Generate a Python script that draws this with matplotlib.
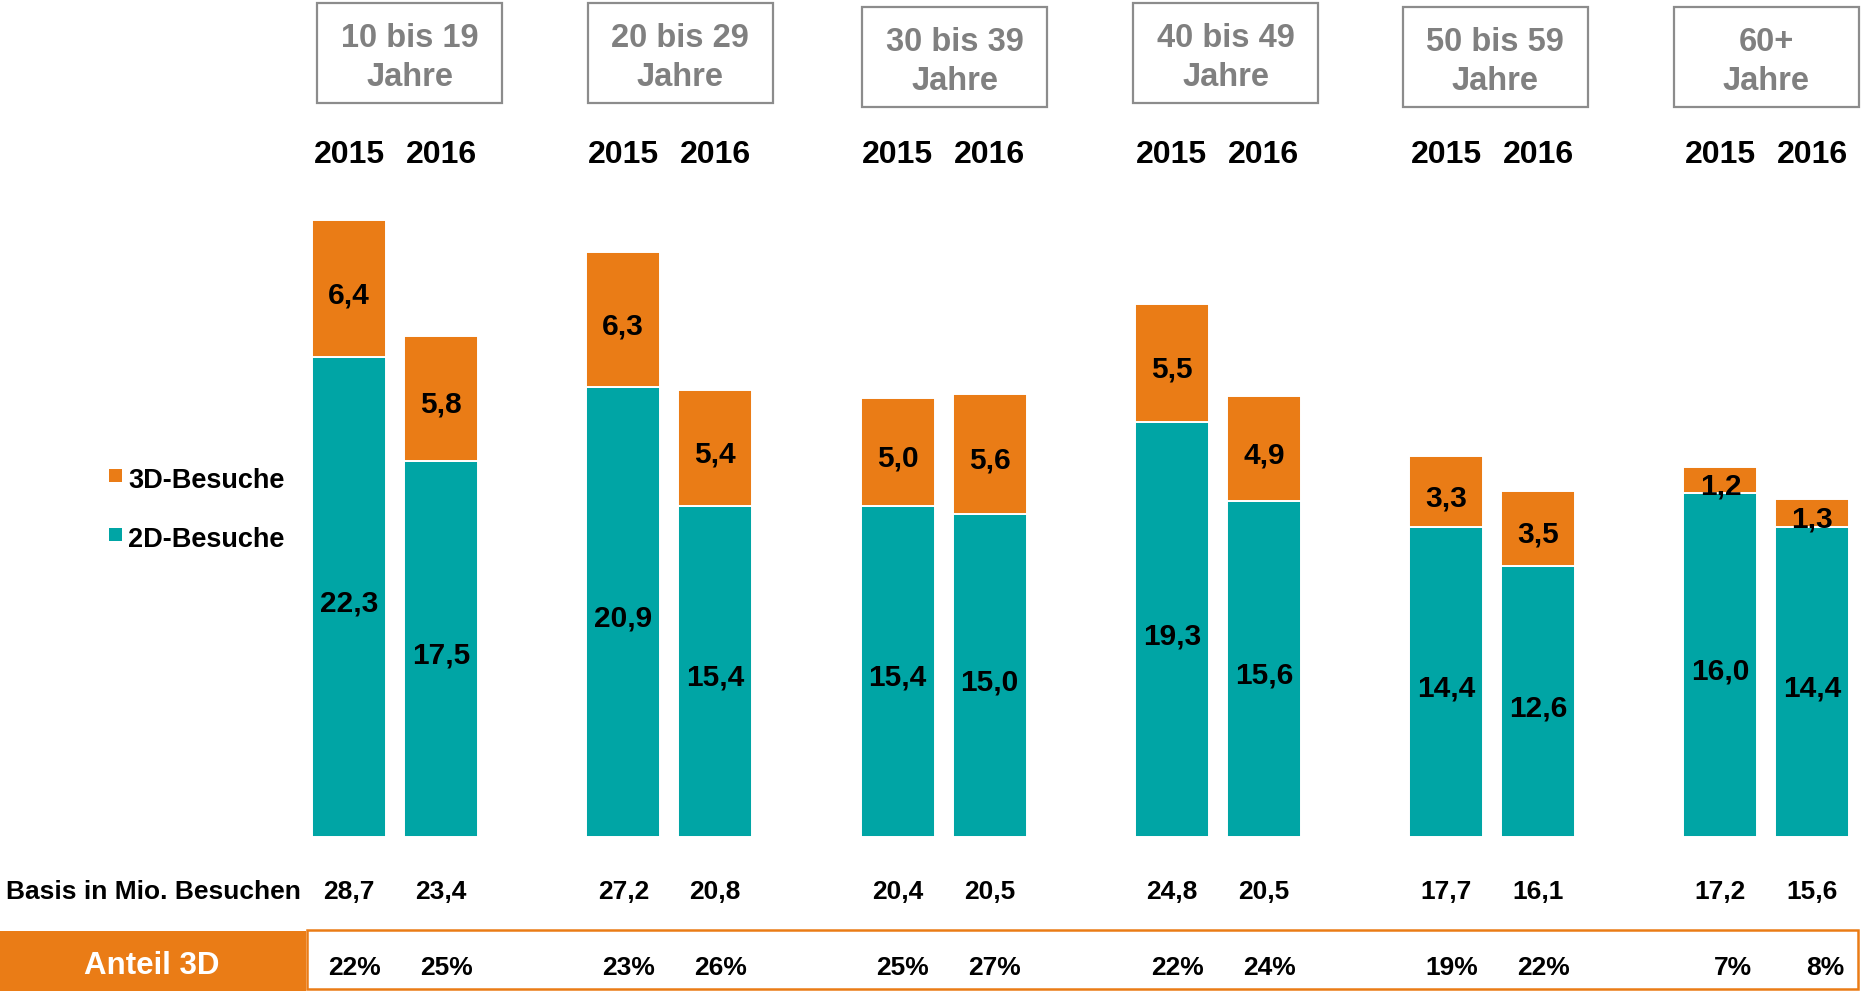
import matplotlib
matplotlib.use("Agg")
import matplotlib.pyplot as plt
import matplotlib.transforms as mtransforms
from matplotlib.patches import Rectangle

# ---------------- data ----------------
groups = ["10 bis 19\nJahre", "20 bis 29\nJahre", "30 bis 39\nJahre",
          "40 bis 49\nJahre", "50 bis 59\nJahre", "60+\nJahre"]
years = ["2015", "2016"]
besuche_2d_2015 = [22.3, 20.9, 15.4, 19.3, 14.4, 16.0]
besuche_2d_2016 = [17.5, 15.4, 15.0, 15.6, 12.6, 14.4]
besuche_3d_2015 = [6.4, 6.3, 5.0, 5.5, 3.3, 1.2]
besuche_3d_2016 = [5.8, 5.4, 5.6, 4.9, 3.5, 1.3]
basis_2015 = [28.7, 27.2, 20.4, 24.8, 17.7, 17.2]
basis_2016 = [23.4, 20.8, 20.5, 20.5, 16.1, 15.6]
anteil_2015 = [22, 23, 25, 22, 19, 7]
anteil_2016 = [25, 26, 27, 24, 22, 8]
legend_labels = ["3D-Besuche", "2D-Besuche"]
basis_label = "Basis in Mio. Besuchen"
anteil_label = "Anteil 3D"

# ---------------- style ----------------
TEAL = "#00A5A5"
ORANGE = "#EA7C16"
GREY_TXT = "#808080"
GREY_BOX = "#8C8C8C"
FONT = "Liberation Sans"
plt.rcParams["font.family"] = [FONT, "DejaVu Sans"]

W, H = 1874, 995
fig = plt.figure(figsize=(W / 100, H / 100), dpi=100)

# overlay axes in pixel coordinates (for decorations)
ov = fig.add_axes([0, 0, 1, 1])
ov.set_xlim(0, W)
ov.set_ylim(H, 0)
ov.axis("off")

# main data axes
y0_px = 838.0
px_per_unit = 21.51
ymax = 38
ax = fig.add_axes([0, (H - y0_px) / H, 1, ymax * px_per_unit / H])
gc0_px, gstep_px = 395.0, 274.3
ax.set_xlim(-gc0_px / gstep_px, (W - gc0_px) / gstep_px)
ax.set_ylim(0, ymax)
ax.axis("off")

trans = mtransforms.blended_transform_factory(ax.transData, ov.transData)

def fmt(v):
    return f"{v:.1f}".replace(".", ",")

def base(center_px, size_pt):
    # baseline pixel so that cap height is centered on center_px
    return center_px + 0.358 * size_pt * 100 / 72

off = 46 / gstep_px
bw = 74 / gstep_px
n = len(groups)
xs = list(range(n))

series = [
    (besuche_2d_2015, besuche_3d_2015, basis_2015, anteil_2015, -off),
    (besuche_2d_2016, besuche_3d_2016, basis_2016, anteil_2016, +off),
]

lab_shift = -0.12  # small downward nudge of in-bar labels (data units)
for yi, (d2, d3, bas, ant, dx) in enumerate(series):
    pos = [x + dx for x in xs]
    ax.bar(pos, d2, width=bw, color=TEAL, edgecolor="white", linewidth=1.4, zorder=2)
    ax.bar(pos, d3, width=bw, bottom=d2, color=ORANGE, edgecolor="white",
           linewidth=1.4, zorder=2)
    for p, a, b in zip(pos, d2, d3):
        ax.text(p, a / 2 + lab_shift, fmt(a), ha="center", va="center_baseline",
                fontsize=21.5, fontweight="bold", color="black", zorder=3)
        ax.text(p, a + b / 2 + lab_shift, fmt(b), ha="center", va="center_baseline",
                fontsize=21.5, fontweight="bold", color="black", zorder=3)
    for p in pos:
        ax.text(p, base(152, 23), years[yi], transform=trans, ha="center",
                va="baseline", fontsize=23, fontweight="bold", color="black",
                clip_on=False)
    for p, v in zip(pos, bas):
        ax.text(p, base(890, 19), fmt(v), transform=trans, ha="center",
                va="baseline", fontsize=19, fontweight="bold", color="black",
                clip_on=False)
    for p, v in zip(pos, ant):
        ax.text(p + 0.115, base(966, 19), f"{v}%", transform=trans, ha="right",
                va="baseline", fontsize=19, fontweight="bold", color="black",
                clip_on=False)

# header boxes
box_shift_px = [15, 11, 11, 8, 3, 0]
box_top_px = [4, 4, 8, 4, 8, 8]
box_w = 185 / gstep_px
for x, g, sh, top in zip(xs, groups, box_shift_px, box_top_px):
    cx = x + sh / gstep_px
    ax.add_patch(Rectangle((cx - box_w / 2, top), box_w, 100, transform=trans,
                           fill=False, edgecolor=GREY_BOX, linewidth=1.6,
                           clip_on=False))
    lines = g.split("\n")
    for li, line in enumerate(lines):
        ax.text(cx, base(top + 31 + 39.5 * li, 23.5), line, transform=trans,
                ha="center", va="baseline", fontsize=23.5, fontweight="bold",
                color=GREY_TXT, clip_on=False)

# legend
leg_y = [478, 537]
leg_col = [ORANGE, TEAL]
for lab, yc, col in zip(legend_labels, leg_y, leg_col):
    ov.add_patch(Rectangle((109, yc - 8), 13, 13, facecolor=col, edgecolor="none"))
    ov.text(128, base(yc, 19.5), lab, ha="left", va="baseline", fontsize=19.5,
            fontweight="bold", color="black")

# basis label
ov.text(6, base(890, 19), basis_label, ha="left", va="baseline", fontsize=19,
        fontweight="bold", color="black")

# Anteil 3D row
ov.add_patch(Rectangle((307, 931), 1551, 59, fill=False, edgecolor=ORANGE,
                       linewidth=1.8))
ov.add_patch(Rectangle((0, 932), 306, 60, facecolor=ORANGE, edgecolor="none"))
ov.text(152, base(963, 22.5), anteil_label, ha="center", va="baseline",
        fontsize=22.5, fontweight="bold", color="white")

fig.savefig("out.png", dpi=100)
